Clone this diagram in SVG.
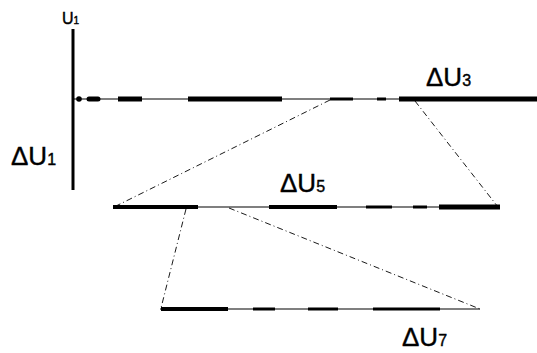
<svg xmlns="http://www.w3.org/2000/svg" width="537" height="353" viewBox="0 0 537 353">
<style>
.thin{stroke:#000;stroke-width:1.2;fill:none}
.thick{stroke:#000;stroke-width:5;fill:none}
.mid{stroke:#000;stroke-width:4;fill:none}
.dd{stroke:#000;stroke-width:0.9;fill:none;stroke-dasharray:6 3 1 3}
.lbl{font-family:"Liberation Sans",Arial,sans-serif;font-size:26px;fill:#000;stroke:#000;stroke-width:0.4}
.sub{font-size:16px}
</style>
<rect width="537" height="353" fill="#fff"/>
<g id="axis">
<line x1="73" y1="29" x2="73" y2="190" stroke="#000" stroke-width="3"/>
<text class="lbl" x="62" y="24" style="font-size:16px">U<tspan style="font-size:10px">1</tspan></text>
<text class="lbl" x="11" y="165">ΔU<tspan class="sub">1</tspan></text>
</g>
<g id="line-U3">
<line class="thin" x1="73" y1="99" x2="537" y2="99"/>
<circle cx="79" cy="99" r="2.8" fill="#000"/>
<line class="thick" x1="89" y1="99" x2="98" y2="99" stroke-linecap="round"/>
<line class="thick" x1="118" y1="99" x2="142" y2="99"/>
<line class="thick" x1="188" y1="99" x2="282" y2="99"/>
<line class="mid" x1="330" y1="99" x2="353" y2="99" style="stroke-width:3"/>
<line class="mid" x1="377" y1="99" x2="386" y2="99" style="stroke-width:3"/>
<line class="thick" x1="399" y1="99" x2="537" y2="99"/>
<text class="lbl" x="426" y="86">ΔU<tspan class="sub">3</tspan></text>
</g>
<g id="line-U5">
<line class="thin" x1="113" y1="207" x2="500" y2="207"/>
<line class="mid" x1="113" y1="207" x2="198" y2="207"/>
<line class="mid" x1="269" y1="207" x2="337" y2="207"/>
<line class="mid" x1="366" y1="207" x2="392" y2="207" style="stroke-width:3"/>
<line class="mid" x1="413" y1="207" x2="427" y2="207" style="stroke-width:3"/>
<line class="thick" x1="439" y1="207" x2="500" y2="207"/>
<text class="lbl" x="280" y="192">ΔU<tspan class="sub">5</tspan></text>
</g>
<g id="line-U7">
<line class="thin" x1="160" y1="309" x2="480" y2="309"/>
<line class="mid" x1="161" y1="309" x2="228" y2="309"/>
<line class="mid" x1="253" y1="309" x2="275" y2="309" style="stroke-width:3"/>
<line class="mid" x1="308" y1="309" x2="338" y2="309" style="stroke-width:3"/>
<line class="mid" x1="373" y1="309" x2="440" y2="309" style="stroke-width:3"/>
<text class="lbl" x="402" y="346">ΔU<tspan class="sub">7</tspan></text>
</g>
<g id="connectors">
<line class="dd" x1="330" y1="100" x2="114" y2="207"/>
<line class="dd" x1="415" y1="101" x2="498" y2="207"/>
<line class="dd" x1="186" y1="209" x2="161" y2="308"/>
<line class="dd" x1="229" y1="208" x2="480" y2="309"/>
</g>
</svg>
